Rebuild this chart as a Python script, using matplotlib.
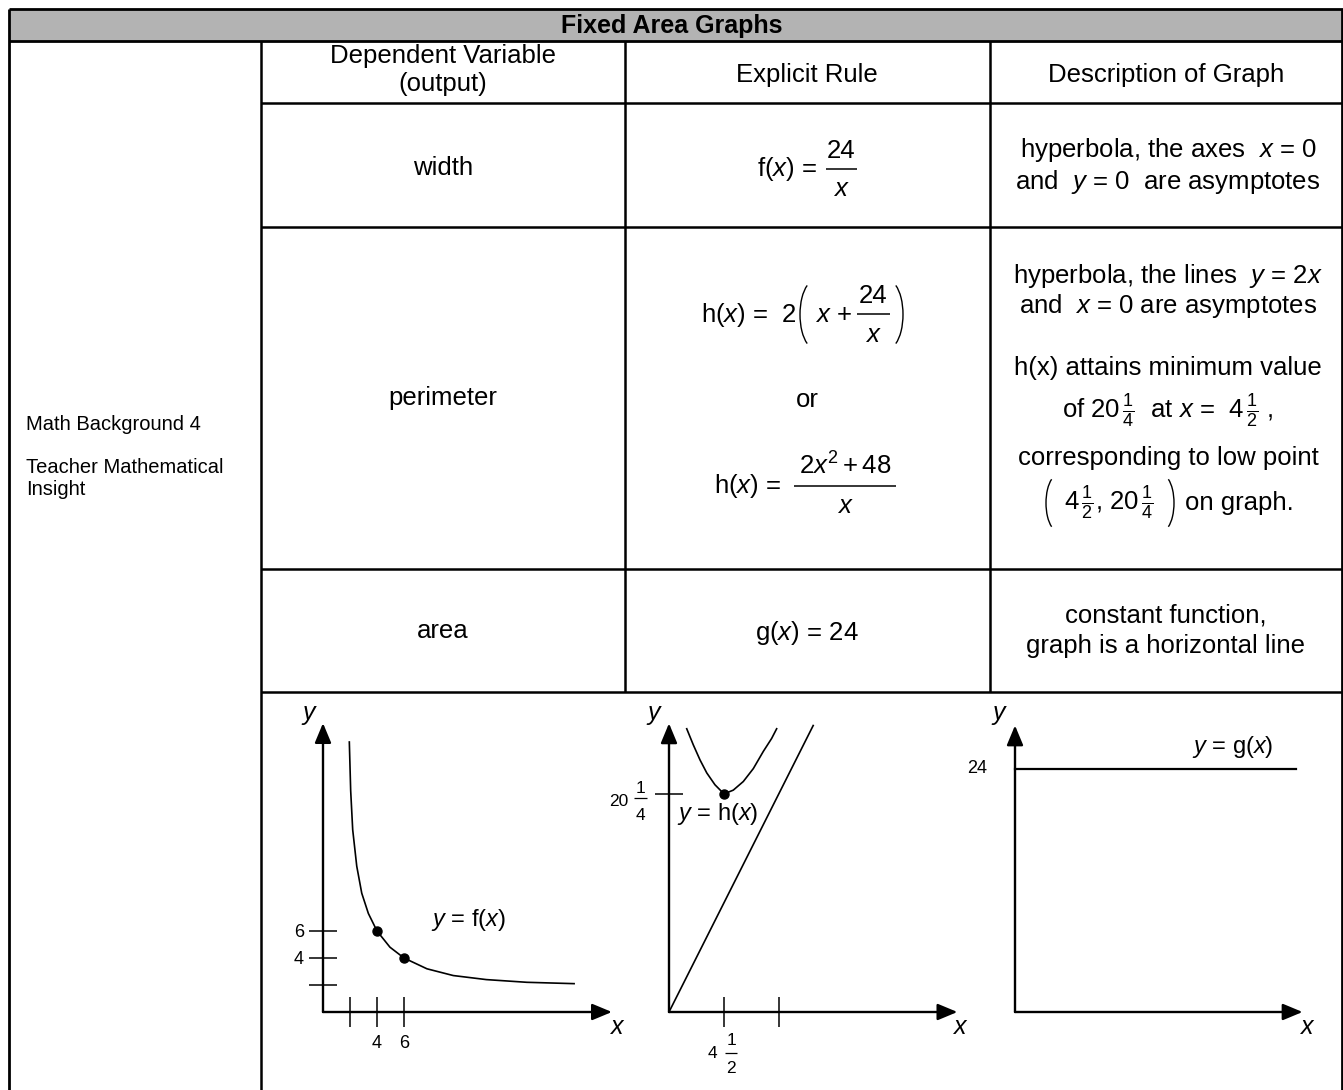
import numpy as np
import matplotlib.pyplot as plt
from matplotlib.patches import Arc, Rectangle

"""
    Fixed area graphs: table of width, perimeter and area of a rectangle with area 24,
    with a sketch of each graph in the last row.
"""
plt.rcParams['font.family'] = ['Liberation Sans', 'DejaVu Sans']
plt.rcParams['mathtext.fontset'] = 'custom'
plt.rcParams['mathtext.rm'] = 'Liberation Sans'
plt.rcParams['mathtext.it'] = 'Liberation Sans:italic'
plt.rcParams['mathtext.bf'] = 'Liberation Sans:bold'

W, H = 1343, 1090

############## - Table text - ##################
title = 'Fixed Area Graphs'
side_notes = ['Math Background 4', 'Teacher Mathematical', 'Insight']
headers = ['Dependent Variable', '(output)', 'Explicit Rule', 'Description of Graph']
outputs = ['width', 'perimeter', 'area']
desc_width = ['hyperbola, the axes  $x$ = 0', 'and  $y$ = 0  are asymptotes']
desc_perimeter = ['hyperbola, the lines  $y$ = 2$x$', 'and  $x$ = 0 are asymptotes',
                  'h(x) attains minimum value',
                  r'of $20\,\frac{1}{4}$  at $x$ =  $4\,\frac{1}{2}$ ,',
                  'corresponding to low point']
desc_area = ['constant function,', 'graph is a horizontal line']

############## - Graph data (read off the sketches) - ##################
# graph 1 : y = f(x)
f_x = [1.95, 2.05, 2.2, 2.5, 2.87, 3.36, 4.0, 4.96, 6.0, 7.7, 9.65, 12.1, 15.1, 18.6]
f_y = [20.0, 16.4, 13.5, 10.8, 8.8, 7.3, 6.0, 4.8, 4.0, 3.2, 2.7, 2.4, 2.2, 2.1]
f_dots_x = [4, 6]
f_dots_y = [6, 4]
f_ticks = [2, 4, 6]
f_tick_labels = ['4', '6']

# graph 2 : y = h(x) and the line y = 2x
h_x = [1.45, 1.99, 2.54, 3.09, 3.76, 4.5, 5.26, 6.08, 6.9, 7.72, 8.4, 8.81]
h_y = [26.3, 24.8, 23.4, 22.2, 21.1, 20.25, 20.6, 21.4, 22.6, 24.2, 25.4, 26.3]
line_x = [0, 11.8]
line_y = [0, 26.6]
h_min = (4.5, 20.25)
h_xticks = [4.5, 9]

# graph 3 : y = g(x)
g_x = [0, 27.75]
g_y = [24, 24]

################ - Figure - ##################
fig = plt.figure(figsize=(W / 100, H / 100), dpi=100)
ax = fig.add_axes([0, 0, 1, 1])
ax.set_xlim(0, W)
ax.set_ylim(H, 0)
ax.axis('off')

def txt(x, y, s, size=18.5, ha='center', **kw):
    ax.text(x, y, s, fontsize=size, ha=ha, va='baseline', **kw)

def bar(x0, x1, y, lw=1.1):
    ax.plot([x0, x1], [y, y], color='k', lw=lw, solid_capstyle='butt')

def paren(cx, cy, h, side, w=30):
    if side == 'l':
        ax.add_patch(Arc((cx, cy), w, h, theta1=105, theta2=255, lw=1.0, color='k'))
    else:
        ax.add_patch(Arc((cx, cy), w, h, theta1=-75, theta2=75, lw=1.0, color='k'))

# table grid
ax.add_patch(Rectangle((9, 9), W - 9, 31.5, facecolor='#b3b3b3', edgecolor='none'))
ax.hlines([9, 40.5], 9, W, color='k', lw=2)
ax.hlines([103, 227, 569, 692], 261, W, color='k', lw=1.8)
ax.vlines([9, 1342], 9, H, color='k', lw=2)
ax.vlines(261, 40.5, H, color='k', lw=1.8)
ax.vlines([624.5, 990], 40.5, 692, color='k', lw=1.8)

# header
txt(672, 33, title, size=18, weight='bold')
txt(443, 63.5, headers[0])
txt(443, 91, headers[1])
txt(806.5, 82, headers[2])
txt(1166, 82, headers[3])

# side column
txt(26, 430, side_notes[0], size=14.5, ha='left')
txt(26, 473, side_notes[1], size=14.5, ha='left')
txt(26, 495, side_notes[2], size=14.5, ha='left')

# dependent variable column
txt(443, 175, outputs[0])
txt(443, 405, outputs[1])
txt(443, 638, outputs[2])

# explicit rules
txt(817, 176, 'f($x$) =', ha='right')
bar(826, 857, 169)
txt(841.5, 158, '24')
txt(841.5, 196, '$x$')

txt(797, 322, 'h($x$) =  2', ha='right')
paren(815, 314.5, 68, 'l')
txt(815, 322, '$x$ +', ha='left')
bar(857, 890, 314)
txt(873, 303, '24')
txt(873, 342, '$x$')
paren(888, 314.5, 68, 'r')
txt(807, 407, 'or')
txt(781, 493, 'h($x$) =', ha='right')
bar(794, 896, 486)
txt(845, 475, '$2x^{2}+48$')
txt(845, 513, '$x$')

txt(806.5, 640, 'g($x$) = 24')

# descriptions
txt(1168, 157, desc_width[0])
txt(1168, 189, desc_width[1])
for s, yb in zip(desc_perimeter, [283, 313, 375, 418, 465]):
    txt(1168, yb, s)
paren(1058, 503, 56, 'l', w=24)
txt(1109, 510, r'$4\,\frac{1}{2}$, $20\,\frac{1}{4}$')
paren(1162, 503, 56, 'r', w=24)
txt(1185, 510, 'on graph.', ha='left')
txt(1166, 623, desc_area[0])
txt(1166, 653, desc_area[1])

################ - Graphs - ##################
def graph_axes(ox, oy, sx, sy, box):
    # axes over a pixel box with data (0,0) at pixel (ox, oy), sx and sy pixels per unit
    l, t, r, b = box
    g = fig.add_axes([l / W, 1 - b / H, (r - l) / W, (b - t) / H])
    g.set_xlim((l - ox) / sx, (r - ox) / sx)
    g.set_ylim((oy - b) / sy, (oy - t) / sy)
    g.axis('off')
    return g

def axis_arrow(g, xy):
    g.annotate('', xy=xy, xytext=(0, 0),
               arrowprops=dict(arrowstyle='-|>,head_length=0.6,head_width=0.25', color='k',
                               lw=1.7, mutation_scale=20, shrinkA=0, shrinkB=0))

# graph 1
g1 = graph_axes(323, 1012, 13.5, 13.5, (270, 700, 632, 1085))
axis_arrow(g1, (0, 21.4))
axis_arrow(g1, (21.4, 0))
g1.vlines(f_ticks, -1.1, 1.1, color='k', lw=1.1)
g1.hlines(f_ticks, -1.05, 1.05, color='k', lw=1.1)
g1.plot(f_x, f_y, color='k', lw=1.2)
g1.plot(f_dots_x, f_dots_y, 'o', color='k', ms=6.5)
txt(310, 720, '$y$', size=18)
txt(617, 1034, '$x$', size=18)
txt(304, 937, '6', size=13, ha='right')
txt(304, 964, '4', size=13, ha='right')
txt(377, 1048, f_tick_labels[0], size=13)
txt(404, 1048, f_tick_labels[1], size=13)
txt(468, 926, '$y$ = f($x$)', size=17)

# graph 2
g2 = graph_axes(669, 1012, 12.22, 10.77, (640, 700, 975, 1085))
axis_arrow(g2, (0, 26.8))
axis_arrow(g2, (23.6, 0))
g2.vlines(h_xticks, -1.4, 1.4, color='k', lw=1.1)
g2.hlines(h_min[1], -1.15, 1.15, color='k', lw=1.1)
g2.plot(line_x, line_y, color='k', lw=1.2)
g2.plot(h_x, h_y, color='k', lw=1.2)
g2.plot(*h_min, 'o', color='k', ms=6.5)
txt(655, 720, '$y$', size=18)
txt(960, 1034, '$x$', size=18)
txt(628, 806, '20', size=12.5, ha='right')
txt(640.5, 793, '1', size=12.5)
bar(634, 647, 798, lw=0.9)
txt(640.5, 820, '4', size=12.5)
txt(712, 1058, '4', size=12.5)
txt(731, 1045, '1', size=12.5)
bar(725, 737, 1053, lw=0.9)
txt(731, 1073, '2', size=12.5)
txt(718, 820, '$y$ = h($x$)', size=17)

# graph 3
g3 = graph_axes(1015, 1012, 10.125, 10.125, (990, 700, 1330, 1085))
axis_arrow(g3, (0, 28.3))
axis_arrow(g3, (28.4, 0))
g3.plot(g_x, g_y, color='k', lw=1.6)
txt(1000, 720, '$y$', size=18)
txt(1307, 1034, '$x$', size=18)
txt(977, 773, '24', size=13)
txt(1233, 753, '$y$ = g($x$)', size=17)

fig.savefig('out.png', dpi=100)
